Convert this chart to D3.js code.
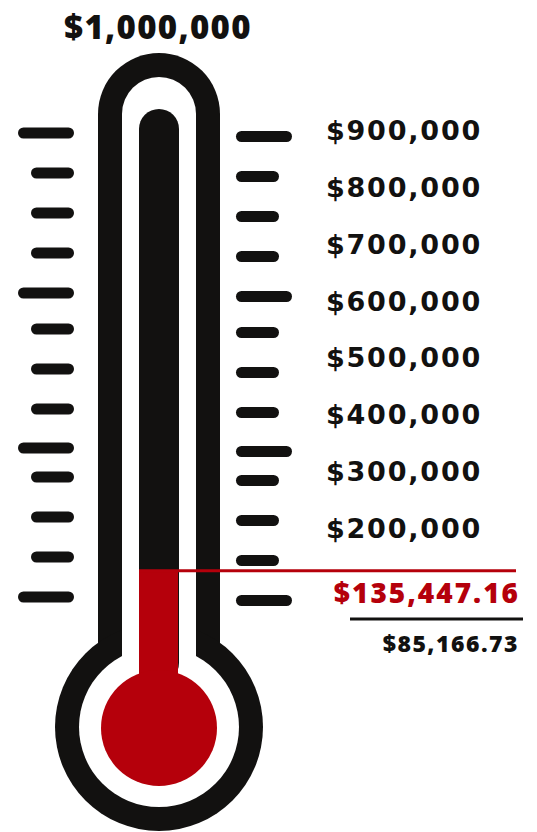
<!DOCTYPE html>
<html>
<head>
<meta charset="utf-8">
<script src="https://cdn.jsdelivr.net/npm/d3@7"></script>
<style>
    html, body { margin: 0; padding: 0; background: #fff; }
    svg { display: block; }
</style>
</head>
<body>
<div id="thermo"></div>
<script>
// Goal and amounts
const goal = 1000000;
const raised = 135447.16;
const secondAmount = 85166.73;

// Labels down the right side of the scale
const scaleLabels = [900000, 800000, 700000, 600000, 500000, 400000, 300000, 200000];

// Decorative tick marks (position in tick steps, long or short)
const tickLevels = [0, 1, 2, 3, 4, 4.9, 5.9, 6.9, 7.875, 8.6, 9.6, 10.6, 11.6];
const longTicks = [true, false, false, false, true, false, false, false, true, false, false, false, true];

document.addEventListener('DOMContentLoaded', function() {
    const width = 537, height = 832;
    const ink = "#121110", red = "#b5000b";
    const cx = 159;

    const svg = d3.select("#thermo")
        .append("svg")
        .attr("width", width)
        .attr("height", height);

    // value scale along the inner column
    const y = d3.scaleLinear()
        .domain([0, goal])
        .range([643, 109]);

    // label positions
    const yLabel = d3.scalePoint()
        .domain(scaleLabels)
        .range([140, 538]);

    // tick positions
    const yTick = d3.scaleLinear()
        .domain([0, 11.6])
        .range([133, 597]);

    const money = d3.format("$,");
    const money2 = d3.format("$,.2f");

    // outer body
    svg.append("rect")
        .attr("x", cx - 61).attr("y", 53)
        .attr("width", 122).attr("height", 650)
        .attr("rx", 61).attr("ry", 61)
        .style("fill", ink);
    svg.append("circle")
        .attr("cx", cx).attr("cy", 727).attr("r", 104)
        .style("fill", ink);

    // white gap
    svg.append("rect")
        .attr("x", cx - 37).attr("y", 77)
        .attr("width", 74).attr("height", 620)
        .attr("rx", 37).attr("ry", 37)
        .style("fill", "#fff");
    svg.append("circle")
        .attr("cx", cx).attr("cy", 727).attr("r", 80)
        .style("fill", "#fff");

    // empty column
    svg.append("rect")
        .attr("x", cx - 20).attr("y", y(goal))
        .attr("width", 40).attr("height", y(0) - y(goal) + 40)
        .attr("rx", 20).attr("ry", 20)
        .style("fill", ink);

    // filled part
    svg.append("rect")
        .attr("x", cx - 20).attr("y", y(raised))
        .attr("width", 39).attr("height", 700 - y(raised))
        .style("fill", red);
    svg.append("circle")
        .attr("cx", cx).attr("cy", 728).attr("r", 58)
        .style("fill", red);

    // ticks
    const left = svg.append("g");
    left.selectAll("line")
        .data(tickLevels)
        .enter()
        .append("line")
        .attr("x1", (d, i) => longTicks[i] ? 23.5 : 36.5)
        .attr("x2", 68.5)
        .attr("y1", d => yTick(d))
        .attr("y2", d => yTick(d))
        .style("stroke", ink)
        .style("stroke-width", 11)
        .style("stroke-linecap", "round");

    const right = svg.append("g").attr("transform", "translate(0,3.5)");
    right.selectAll("line")
        .data(tickLevels)
        .enter()
        .append("line")
        .attr("x1", 241.5)
        .attr("x2", (d, i) => longTicks[i] ? 286.5 : 273.5)
        .attr("y1", d => yTick(d))
        .attr("y2", d => yTick(d))
        .style("stroke", ink)
        .style("stroke-width", 11)
        .style("stroke-linecap", "round");

    // goal label
    svg.append("text")
        .attr("x", 158).attr("y", 39)
        .attr("text-anchor", "middle")
        .style("font-family", "'Open Sans', sans-serif")
        .style("font-weight", 800)
        .style("font-size", "33px")
        .style("letter-spacing", "1.3px")
        .style("fill", ink)
        .text(money(goal));

    // scale labels
    svg.selectAll(".lbl")
        .data(scaleLabels)
        .enter()
        .append("text")
        .attr("class", "lbl")
        .attr("x", 404)
        .attr("y", d => yLabel(d))
        .attr("text-anchor", "middle")
        .style("font-family", "'DejaVu Sans', sans-serif")
        .style("font-weight", 700)
        .style("font-size", "27px")
        .style("letter-spacing", "1.8px")
        .style("fill", ink)
        .text(d => money(d));

    // current amount marker
    svg.append("line")
        .attr("x1", cx - 20).attr("x2", 516)
        .attr("y1", y(raised)).attr("y2", y(raised))
        .style("stroke", red)
        .style("stroke-width", 3);

    svg.append("text")
        .attr("x", 520).attr("y", 603)
        .attr("text-anchor", "end")
        .style("font-family", "'Open Sans', sans-serif")
        .style("font-weight", 800)
        .style("font-size", "28px")
        .style("letter-spacing", "2px")
        .style("fill", red)
        .text(money2(raised));

    svg.append("line")
        .attr("x1", 350).attr("x2", 523)
        .attr("y1", 619).attr("y2", 619)
        .style("stroke", ink)
        .style("stroke-width", 3);

    svg.append("text")
        .attr("x", 519).attr("y", 652)
        .attr("text-anchor", "end")
        .style("font-family", "'Open Sans', sans-serif")
        .style("font-weight", 800)
        .style("font-size", "23px")
        .style("letter-spacing", "1.5px")
        .style("fill", ink)
        .text(money2(secondAmount));
});
</script>
</body>
</html>
